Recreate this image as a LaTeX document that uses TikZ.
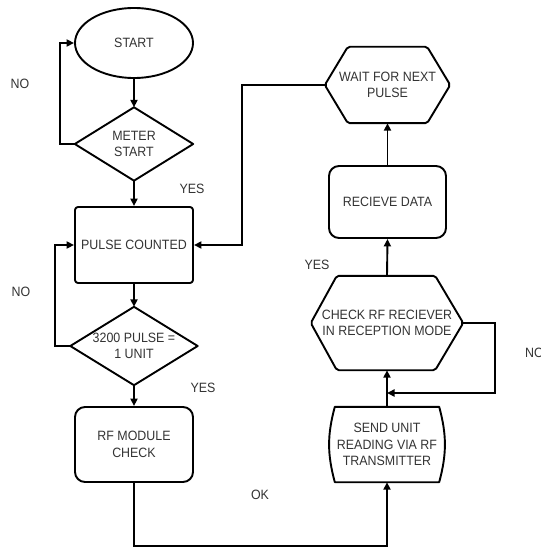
\documentclass[tikz,border=0pt]{standalone}
\usepackage{fontspec}
\setmainfont{Liberation Sans}[FakeStretch=0.92]
\usetikzlibrary{shapes.geometric,arrows.meta}
\begin{document}
\begin{tikzpicture}[x=1pt,y=-1pt,
  shp/.style={draw, line width=1.9pt, line join=round},
  txt/.style={rectangle, inner sep=0pt, align=center, text=black!80,
    font=\fontsize{13.5}{16.5}\selectfont},
  lbl/.style={inner sep=0pt, text=black!80, font=\fontsize{13.5}{15}\selectfont},
  arr/.style={line width=1.9pt, -{Triangle[length=7.5pt,width=7pt]}},
  ln/.style={line width=1.9pt}]
\useasboundingbox[fill=white] (0,0) rectangle (540,548);
% nodes
\node[txt, shp, ellipse, minimum width=118pt, minimum height=70pt] (start) at (134,43) {START};
\node[txt, minimum width=118pt, minimum height=73pt] (meter) at (134,144) {METER\\START};
\node[txt, shp, rounded corners=3pt, minimum width=118pt, minimum height=76pt] (pulse) at (134,245) {PULSE COUNTED};
\node[txt, minimum width=127pt, minimum height=78pt] (unit) at (134,346) {3200 PULSE =\\1 UNIT};
\node[txt, shp, rounded corners=10pt, minimum width=118pt, minimum height=75pt] (rf) at (134,444.5) {RF MODULE\\CHECK};
\node[txt, minimum width=104pt, minimum height=75pt] (send) at (387,444.5) {SEND UNIT\\READING VIA RF\\TRANSMITTER};
\node[txt, minimum width=152pt, minimum height=94pt] (check) at (387,323) {CHECK RF RECIEVER\\IN RECEPTION MODE};
\node[txt, shp, rounded corners=10pt, minimum width=117pt, minimum height=72pt] (recv) at (387.5,202) {RECIEVE DATA};
\node[txt, minimum width=125pt, minimum height=76pt] (wait) at (387.5,85) {WAIT FOR NEXT\\PULSE};
% custom shapes
\draw[shp] (meter.north) -- (meter.east) -- (meter.south) -- (meter.west) -- cycle;
\draw[shp] (unit.north) -- (unit.east) -- (unit.south) -- (unit.west) -- cycle;
\draw[shp, rounded corners=2pt] ([xshift=23pt]wait.north west) -- ([xshift=-23pt]wait.north east) -- (wait.east)
  -- ([xshift=-23pt]wait.south east) -- ([xshift=23pt]wait.south west) -- (wait.west) -- cycle;
\draw[shp, rounded corners=2pt] ([xshift=26pt]check.north west) -- ([xshift=-28pt]check.north east) -- (check.east)
  -- ([xshift=-28pt]check.south east) -- ([xshift=26pt]check.south west) -- (check.west) -- cycle;
\draw[shp] (send.north west) -- (send.north east) to[out=-75,in=75] (send.south east)
  -- (send.south west) to[out=105,in=-105] (send.north west) -- cycle;
% connectors
\draw[arr] (start.south) -- (meter.north);
\draw[arr] (meter.south) -- (pulse.north);
\draw[arr] (pulse.south) -- (unit.north);
\draw[arr] (unit.south) -- (rf.north);
\draw[arr] (meter.west) -- ++(-15,0) |- (start.west);
\draw[arr] (unit.west) -- ++(-15,0) |- (pulse.west);
\draw[arr] (wait.west) -- ++(-83,0) |- (pulse.east);
\coordinate (bot) at (134,546);
\draw[arr] (rf.south) -- (bot) -| (send.south);
\draw[arr] (send.north) -- (check.south);
\coordinate (j) at (387,393);
\draw[arr] (check.east) -- ++(32,0) |- (j);
\draw[arr] (check.north) -- (recv.south);
\draw[arr] (recv.north) -- (wait.south);
% labels
\node[lbl] (no1) at (20,84) {NO};
\node[lbl] (yes1) at (192,189) {YES};
\node[lbl] (no2) at (21,292) {NO};
\node[lbl] (yes2) at (203,388) {YES};
\node[lbl] (ok) at (260,495) {OK};
\node[lbl] (yes3) at (317,265) {YES};
\node[lbl, anchor=west] (no3) at (525,353) {NO};
\end{tikzpicture}
\end{document}
